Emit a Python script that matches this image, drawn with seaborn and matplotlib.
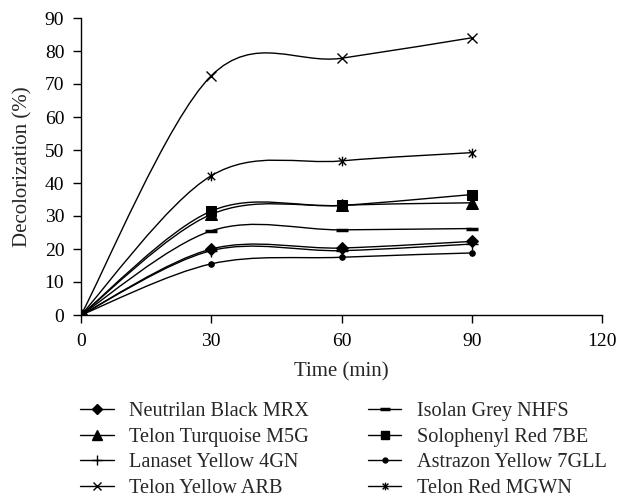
import numpy as np
import pandas as pd
import matplotlib
matplotlib.use("Agg")
import matplotlib.pyplot as plt
from matplotlib.path import Path
from matplotlib.patches import PathPatch
from matplotlib.lines import Line2D
import seaborn as sns

time_min = [0, 30, 60, 90]

neutrilan_black_mrx = [0, 20.0, 20.3, 22.3]
telon_turquoise_m5g = [0, 30.5, 33.2, 34.0]
lanaset_yellow_4gn = [0, 19.5, 19.5, 21.5]
telon_yellow_arb = [0, 72.5, 77.8, 84.0]
isolan_grey_nhfs = [0, 25.5, 25.8, 26.2]
solophenyl_red_7be = [0, 31.5, 33.2, 36.5]
astrazon_yellow_7gll = [0, 15.5, 17.5, 18.8]
telon_red_mgwn = [0, 42.2, 46.7, 49.2]

series_names = ["Neutrilan Black MRX", "Telon Turquoise M5G", "Lanaset Yellow 4GN",
                "Telon Yellow ARB", "Isolan Grey NHFS", "Solophenyl Red 7BE",
                "Astrazon Yellow 7GLL", "Telon Red MGWN"]
series_values = [neutrilan_black_mrx, telon_turquoise_m5g, lanaset_yellow_4gn,
                 telon_yellow_arb, isolan_grey_nhfs, solophenyl_red_7be,
                 astrazon_yellow_7gll, telon_red_mgwn]

x_ticks = [0, 30, 60, 90, 120]
y_ticks = [0, 10, 20, 30, 40, 50, 60, 70, 80, 90]

# custom marker: x with vertical bar
xbar = Path([(-1, -1), (1, 1), (-1, 1), (1, -1), (0, -1.3), (0, 1.3)],
            [Path.MOVETO, Path.LINETO, Path.MOVETO, Path.LINETO, Path.MOVETO, Path.LINETO])

styles = {
    "Neutrilan Black MRX": dict(marker="D", markersize=6.5),
    "Telon Turquoise M5G": dict(marker="^", markersize=8),
    "Lanaset Yellow 4GN": dict(marker="+", markersize=8, markeredgewidth=1.0),
    "Telon Yellow ARB": dict(marker="x", markersize=7, markeredgewidth=1.0),
    "Isolan Grey NHFS": dict(marker="_", markersize=8, markeredgewidth=2.5),
    "Solophenyl Red 7BE": dict(marker="s", markersize=7.5),
    "Astrazon Yellow 7GLL": dict(marker="o", markersize=4),
    "Telon Red MGWN": dict(marker=xbar, markersize=7, markeredgewidth=1.0),
}
legend_sizes = {
    "Neutrilan Black MRX": 5, "Telon Turquoise M5G": 6.5, "Lanaset Yellow 4GN": 7,
    "Telon Yellow ARB": 6, "Isolan Grey NHFS": 6.5, "Solophenyl Red 7BE": 6,
    "Astrazon Yellow 7GLL": 3.5, "Telon Red MGWN": 5.5,
}

sns.set_theme(style="ticks")
plt.rcParams["font.family"] = ["Liberation Serif", "DejaVu Serif"]
plt.rcParams["axes.edgecolor"] = "black"
plt.rcParams["xtick.color"] = "black"
plt.rcParams["ytick.color"] = "black"

fig = plt.figure(figsize=(6.21, 4.98), dpi=100)
ax = fig.add_axes([81 / 621, 1 - 315 / 498, (602 - 81) / 621, (315 - 18) / 498])


def smooth_path(xs, ys):
    P = np.column_stack([xs, ys]).astype(float)
    n = len(P)
    verts = [P[0]]
    codes = [Path.MOVETO]
    for i in range(n - 1):
        prev = P[i - 1] if i > 0 else P[i]
        nxt = P[i + 2] if i + 2 < n else P[i + 1]
        c1 = P[i] + (P[i + 1] - prev) / 6.0
        c2 = P[i + 1] - (nxt - P[i]) / 6.0
        verts += [c1, c2, P[i + 1]]
        codes += [Path.CURVE4] * 3
    return Path(verts, codes)


handles = []
for name, vals in zip(series_names, series_values):
    ax.add_patch(PathPatch(smooth_path(time_min, vals), fill=False,
                           edgecolor="black", lw=1.0, zorder=2))
    st = styles[name]
    sns.lineplot(x=time_min, y=vals, ax=ax, color="black", lw=0, legend=False,
                 markeredgecolor="black", markerfacecolor="black", zorder=3, **st)
    lst = dict(st)
    lst["markersize"] = legend_sizes[name]
    handles.append(Line2D([0], [0], color="black", lw=1.0,
                          markeredgecolor="black", markerfacecolor="black", **lst))

ax.set_xlim(0, 120)
ax.set_ylim(0, 90)
ax.set_xticks(x_ticks)
ax.set_yticks(y_ticks)
ax.tick_params(axis="both", direction="out", length=6, width=1.0, labelsize=14)
ax.tick_params(axis="x", pad=7)
ax.tick_params(axis="y", pad=6)
for s in ["top", "right"]:
    ax.spines[s].set_visible(False)
for s in ["left", "bottom"]:
    ax.spines[s].set_linewidth(1.0)
ax.set_xlabel("Time (min)", fontsize=15, labelpad=9)
ax.set_ylabel("Decolorization (%)", fontsize=15, labelpad=9)
ax.grid(False)

fig.legend(handles, series_names, ncol=2, loc="upper left",
           bbox_to_anchor=(62 / 621, 1 - 384 / 498), frameon=False, fontsize=14.6,
           handlelength=1.65, handletextpad=0.77, columnspacing=2.9, labelspacing=0.31,
           borderpad=0.4)

fig.savefig("out.png", dpi=100)
